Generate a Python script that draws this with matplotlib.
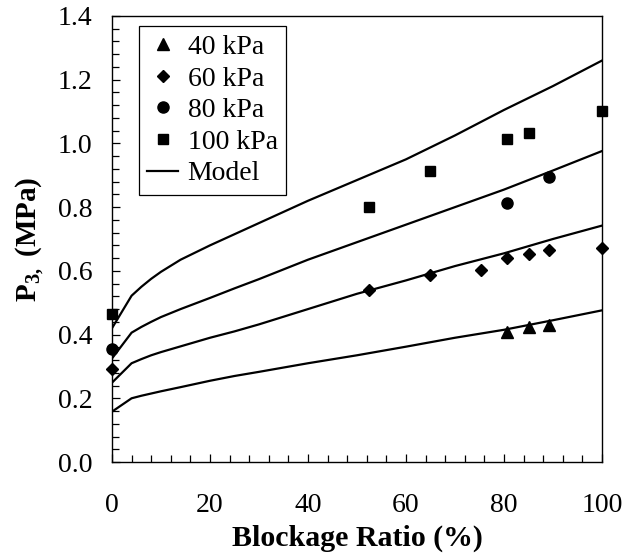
import matplotlib
matplotlib.use("Agg")
import matplotlib.pyplot as plt
from matplotlib.ticker import MultipleLocator, FormatStrFormatter

plt.rcParams['font.family'] = ['Liberation Serif', 'DejaVu Serif']
plt.rcParams['mathtext.fontset'] = 'custom'
plt.rcParams['mathtext.rm'] = 'Liberation Serif'
plt.rcParams['mathtext.bf'] = 'Liberation Serif:bold'

# measured points
x40 = [80.7, 85.2, 89.1]
y40 = [0.409, 0.425, 0.430]

x60 = [0, 52.5, 64.9, 75.3, 80.7, 85.2, 89.1, 100]
y60 = [0.291, 0.540, 0.587, 0.603, 0.641, 0.654, 0.665, 0.671]

x80 = [0, 80.7, 89.1]
y80 = [0.354, 0.813, 0.895]

x100 = [0, 52.5, 64.9, 80.7, 85.2, 100]
y100 = [0.465, 0.801, 0.914, 1.014, 1.033, 1.101]

# model curves
xm = [0, 4, 6, 8, 10, 14, 20, 25, 30, 40, 50, 60, 70, 80, 90, 100]
m40 = [0.158, 0.200, 0.208, 0.215, 0.222, 0.235, 0.255, 0.270, 0.283, 0.310,
       0.335, 0.362, 0.390, 0.415, 0.445, 0.476]
m60 = [0.249, 0.310, 0.323, 0.335, 0.345, 0.363, 0.390, 0.410, 0.432, 0.480,
       0.528, 0.570, 0.615, 0.655, 0.700, 0.742]
m80 = [0.325, 0.406, 0.424, 0.440, 0.455, 0.480, 0.515, 0.545, 0.574, 0.635,
       0.690, 0.745, 0.800, 0.855, 0.915, 0.976]
m100 = [0.420, 0.522, 0.550, 0.575, 0.597, 0.635, 0.680, 0.715, 0.750, 0.820,
        0.885, 0.950, 1.025, 1.105, 1.180, 1.260]

fig = plt.figure(figsize=(6.27, 5.59), dpi=100)
ax = fig.add_axes([0.1786, 0.1735, 0.7814, 0.7979])

ax.plot(x40, y40, '^', color='black', ms=8, clip_on=False, label='40 kPa')
ax.plot(x60, y60, 'D', color='black', ms=6, clip_on=False, label='60 kPa')
ax.plot(x80, y80, 'o', color='black', ms=8, clip_on=False, label='80 kPa')
ax.plot(x100, y100, 's', color='black', ms=7.5, clip_on=False, label='100 kPa')
ax.plot(xm, m40, '-', color='black', lw=1.6, label='Model')
for m in (m60, m80, m100):
    ax.plot(xm, m, '-', color='black', lw=1.6)

ax.set_xlim(0, 100)
ax.set_ylim(0, 1.4)
ax.xaxis.set_major_locator(MultipleLocator(20))
ax.xaxis.set_minor_locator(MultipleLocator(4))
ax.yaxis.set_major_locator(MultipleLocator(0.2))
ax.yaxis.set_minor_locator(MultipleLocator(0.04))
ax.yaxis.set_major_formatter(FormatStrFormatter('%.1f'))
ax.tick_params(which='both', direction='in', labelsize=20, width=0.9)
ax.tick_params(axis='x', which='major', length=6, pad=22)
ax.tick_params(axis='x', which='minor', length=5)
ax.tick_params(axis='y', which='major', length=6, pad=14)
ax.tick_params(axis='y', which='minor', length=5)
for s in ax.spines.values():
    s.set_linewidth(1.0)

ax.set_xlabel('Blockage Ratio (%)', fontsize=21.5, fontweight='bold', labelpad=5)
ax.set_ylabel(r'P$_{\mathbf{3,}}$ (MPa)', fontsize=21, fontweight='bold', labelpad=8)

leg = ax.legend(loc='upper left', fontsize=20, frameon=True, fancybox=False,
                edgecolor='black', framealpha=1, handlelength=1.1,
                handletextpad=0.35, borderpad=0.3, labelspacing=0.22,
                borderaxespad=0, bbox_to_anchor=(0.055, 0.977))
leg.get_frame().set_linewidth(0.9)

fig.savefig('out.png', dpi=100)
